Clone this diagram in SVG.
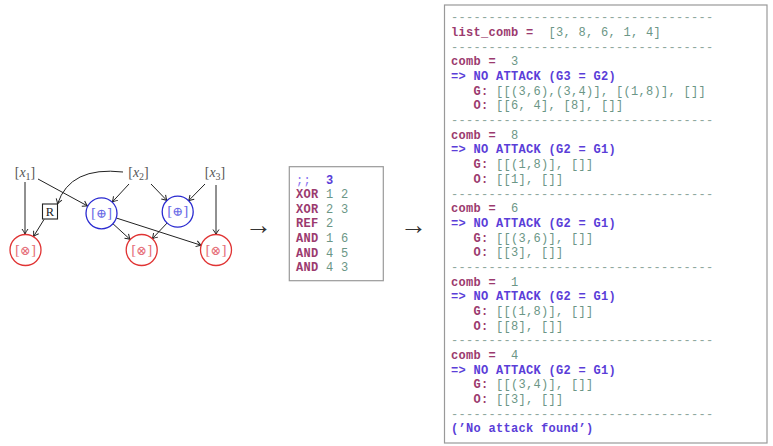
<svg xmlns="http://www.w3.org/2000/svg" width="773" height="446" viewBox="0 0 773 446">
<style>
.lbl{font-family:"Liberation Serif",serif;font-size:14px;fill:#555}
.gate{fill:#fff;stroke-width:1.3}
.blue{stroke:#2a2ad0}
.red{stroke:#e03434}
.gtb{font-family:"DejaVu Serif",serif;font-size:13px;fill:#6a6ae6}
.gtr{font-family:"DejaVu Serif",serif;font-size:13px;fill:#e6707a}
.edge{fill:none;stroke:#222;stroke-width:1}
.mono{font-family:"Liberation Mono",monospace;font-size:12px;letter-spacing:0.3px;white-space:pre}
.kw{fill:#9b3a6e;font-weight:bold}
.bl{fill:#5a3ed8;font-weight:bold}
.bl2{fill:#8a74f0}
.num{fill:#6b9686}
.dash{fill:#8fa89d}
.box{fill:#fff;stroke:#999;stroke-width:1.2}
.arr{font-family:"Liberation Serif",serif;font-size:27px;fill:#333}
</style>
<defs>
<marker id="ah" markerWidth="8" markerHeight="8" refX="0" refY="0" viewBox="-6 -4 7 8" orient="auto" markerUnits="userSpaceOnUse">
<path d="M-5,-3 Q-2,-0.8 0,0 Q-2,0.8 -5,3" fill="none" stroke="#222" stroke-width="1"/>
</marker>
</defs>
<rect width="773" height="446" fill="#fff"/>

<g id="connectors">
<path class="edge" marker-end="url(#ah)" d="M25,182 L25,234"/>
<path class="edge" marker-end="url(#ah)" d="M38,179 L87.6,206"/>
<path class="edge" marker-end="url(#ah)" d="M123,172 Q70,166 57.5,204"/>
<path class="edge" marker-end="url(#ah)" d="M44,219.5 L33.5,236.5"/>
<path class="edge" marker-end="url(#ah)" d="M129,184 L112.3,202"/>
<path class="edge" marker-end="url(#ah)" d="M151,184 L166.9,200.5"/>
<path class="edge" marker-end="url(#ah)" d="M205,184 L188.6,200.7"/>
<path class="edge" marker-end="url(#ah)" d="M216,185 L216,234.5"/>
<path class="edge" marker-end="url(#ah)" d="M113,223.8 L130.2,239.5"/>
<path class="edge" marker-end="url(#ah)" d="M167.1,223 L152.3,238.7"/>
<path class="edge" marker-end="url(#ah)" d="M116.3,218 L201.2,245.3"/>
</g>

<g id="x1"><text class="lbl" x="25" y="177" text-anchor="middle">[<tspan font-style="italic">x</tspan><tspan font-size="10" dy="2.5">1</tspan><tspan dy="-2.5">]</tspan></text></g>
<g id="x2"><text class="lbl" x="138.5" y="177" text-anchor="middle">[<tspan font-style="italic">x</tspan><tspan font-size="10" dy="2.5">2</tspan><tspan dy="-2.5">]</tspan></text></g>
<g id="x3"><text class="lbl" x="215" y="177" text-anchor="middle">[<tspan font-style="italic">x</tspan><tspan font-size="10" dy="2.5">3</tspan><tspan dy="-2.5">]</tspan></text></g>

<g id="R"><rect x="42.5" y="204" width="15" height="15" fill="#fff" stroke="#222" stroke-width="1.1"/><text x="50" y="215.8" text-anchor="middle" font-family="Liberation Serif,serif" font-size="12.5" fill="#222">R</text></g>

<g id="xor1"><circle class="gate blue" cx="101.5" cy="213.3" r="15.5"/><text class="gtb" x="101.5" y="217.8" text-anchor="middle">[⊕]</text></g>
<g id="xor2"><circle class="gate blue" cx="177.7" cy="211.7" r="15.5"/><text class="gtb" x="177.7" y="216.2" text-anchor="middle">[⊕]</text></g>
<g id="and1"><circle class="gate red" cx="25.5" cy="250" r="15.5"/><text class="gtr" x="25.5" y="254.5" text-anchor="middle">[⊗]</text></g>
<g id="and2"><circle class="gate red" cx="141.7" cy="250" r="15.5"/><text class="gtr" x="141.7" y="254.5" text-anchor="middle">[⊗]</text></g>
<g id="and3"><circle class="gate red" cx="216" cy="250" r="15.5"/><text class="gtr" x="216" y="254.5" text-anchor="middle">[⊗]</text></g>

<g id="arrow1"><text class="arr" x="258.3" y="234" text-anchor="middle">→</text></g>
<g id="arrow2"><text class="arr" x="413.3" y="234" text-anchor="middle">→</text></g>

<g id="program">
<rect class="box" x="289.3" y="166.7" width="94" height="114"/>
<text class="mono" x="296" y="183.5"><tspan class="bl2">;;  </tspan><tspan class="bl">3</tspan></text>
<text class="mono" x="296" y="198.1"><tspan class="kw">XOR</tspan><tspan class="num"> 1 2</tspan></text>
<text class="mono" x="296" y="212.7"><tspan class="kw">XOR</tspan><tspan class="num"> 2 3</tspan></text>
<text class="mono" x="296" y="227.3"><tspan class="kw">REF</tspan><tspan class="num"> 2</tspan></text>
<text class="mono" x="296" y="241.9"><tspan class="kw">AND</tspan><tspan class="num"> 1 6</tspan></text>
<text class="mono" x="296" y="256.5"><tspan class="kw">AND</tspan><tspan class="num"> 4 5</tspan></text>
<text class="mono" x="296" y="271.1"><tspan class="kw">AND</tspan><tspan class="num"> 4 3</tspan></text>
</g>

<g id="output">
<rect class="box" x="444.5" y="5" width="322.5" height="438"/>
<text class="mono dash" x="451" y="21.3">-----------------------------------</text>
<text class="mono" x="451" y="36"><tspan class="kw">list_comb =</tspan><tspan class="num">  [3, 8, 6, 1, 4]</tspan></text>
<text class="mono dash" x="451" y="50.7">-----------------------------------</text>
<text class="mono" x="451" y="65.3"><tspan class="kw">comb =</tspan><tspan class="num">  3</tspan></text>
<text class="mono bl" x="451" y="80">=&gt; NO ATTACK (G3 = G2)</text>
<text class="mono" x="451" y="94.7"><tspan class="kw">   G:</tspan><tspan class="num"> [[(3,6),(3,4)], [(1,8)], []]</tspan></text>
<text class="mono" x="451" y="109.4"><tspan class="kw">   O:</tspan><tspan class="num"> [[6, 4], [8], []]</tspan></text>
<text class="mono dash" x="451" y="124.1">-----------------------------------</text>
<text class="mono" x="451" y="138.7"><tspan class="kw">comb =</tspan><tspan class="num">  8</tspan></text>
<text class="mono bl" x="451" y="153.4">=&gt; NO ATTACK (G2 = G1)</text>
<text class="mono" x="451" y="168.1"><tspan class="kw">   G:</tspan><tspan class="num"> [[(1,8)], []]</tspan></text>
<text class="mono" x="451" y="182.8"><tspan class="kw">   O:</tspan><tspan class="num"> [[1], []]</tspan></text>
<text class="mono dash" x="451" y="197.5">-----------------------------------</text>
<text class="mono" x="451" y="212.1"><tspan class="kw">comb =</tspan><tspan class="num">  6</tspan></text>
<text class="mono bl" x="451" y="226.8">=&gt; NO ATTACK (G2 = G1)</text>
<text class="mono" x="451" y="241.5"><tspan class="kw">   G:</tspan><tspan class="num"> [[(3,6)], []]</tspan></text>
<text class="mono" x="451" y="256.2"><tspan class="kw">   O:</tspan><tspan class="num"> [[3], []]</tspan></text>
<text class="mono dash" x="451" y="270.9">-----------------------------------</text>
<text class="mono" x="451" y="285.5"><tspan class="kw">comb =</tspan><tspan class="num">  1</tspan></text>
<text class="mono bl" x="451" y="300.2">=&gt; NO ATTACK (G2 = G1)</text>
<text class="mono" x="451" y="314.9"><tspan class="kw">   G:</tspan><tspan class="num"> [[(1,8)], []]</tspan></text>
<text class="mono" x="451" y="329.6"><tspan class="kw">   O:</tspan><tspan class="num"> [[8], []]</tspan></text>
<text class="mono dash" x="451" y="344.3">-----------------------------------</text>
<text class="mono" x="451" y="358.9"><tspan class="kw">comb =</tspan><tspan class="num">  4</tspan></text>
<text class="mono bl" x="451" y="373.6">=&gt; NO ATTACK (G2 = G1)</text>
<text class="mono" x="451" y="388.3"><tspan class="kw">   G:</tspan><tspan class="num"> [[(3,4)], []]</tspan></text>
<text class="mono" x="451" y="403"><tspan class="kw">   O:</tspan><tspan class="num"> [[3], []]</tspan></text>
<text class="mono dash" x="451" y="417.7">-----------------------------------</text>
<text class="mono bl" x="451" y="432.3">(’No attack found’)</text>
</g>
</svg>
